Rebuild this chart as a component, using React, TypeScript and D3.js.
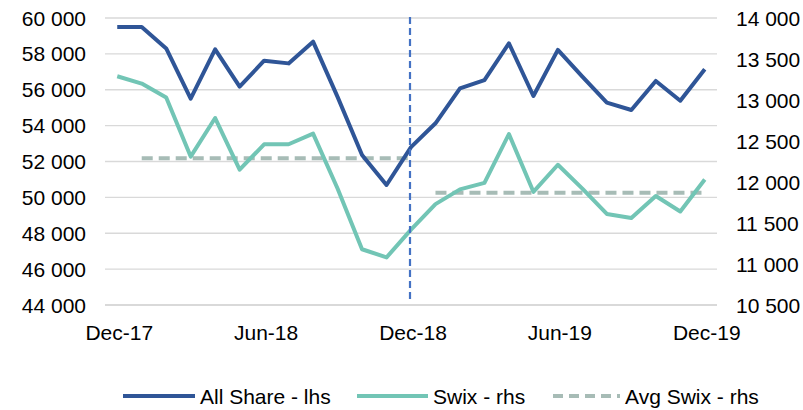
import * as d3 from "d3";

const months = [
  "Dec-17", "Jan-18", "Feb-18", "Mar-18", "Apr-18", "May-18", "Jun-18",
  "Jul-18", "Aug-18", "Sep-18", "Oct-18", "Nov-18", "Dec-18",
  "Jan-19", "Feb-19", "Mar-19", "Apr-19", "May-19", "Jun-19",
  "Jul-19", "Aug-19", "Sep-19", "Oct-19", "Nov-19", "Dec-19",
];
const tickMonths = ["Dec-17", "Jun-18", "Dec-18", "Jun-19", "Dec-19"];

const allShare = [
  59500, 59500, 58300, 55500, 58250, 56170, 57620, 57470, 58680, 55600, 52360, 50690, 52800,
  54130, 56080, 56540, 58590, 55650, 58220, 56730, 55280, 54870, 56490, 55390, 57140,
];
const swix = [
  13290, 13200, 13030, 12310, 12780, 12150, 12460, 12460, 12590, 11920, 11180, 11080, 11420,
  11730, 11910, 11990, 12585, 11880, 12210, 11920, 11610, 11560, 11830, 11640, 12030,
];
// average per period: Jan-18..Dec-18, then Jan-19..Dec-19
const avgSwix2018 = 12290;
const avgSwix2019 = 11870;

const leftTicks = [44000, 46000, 48000, 50000, 52000, 54000, 56000, 58000, 60000];
const rightTicks = [10500, 11000, 11500, 12000, 12500, 13000, 13500, 14000];
const splitMonth = "Dec-18";

const W = 803;
const H = 410;
const PLOT_LEFT = 105;
const PLOT_RIGHT = 717;
const PLOT_TOP = 18;
const PLOT_BOTTOM = 305;
const FONT = "'Liberation Sans', Arial, sans-serif";

const BLUE = "#2f5597";
const TEAL = "#72c5b5";
const AVG = "#a7bcb6";

const locale = d3.formatLocale({ decimal: ".", thousands: " ", grouping: [3], currency: ["", ""] });
const fmt = locale.format(",");

export default function App() {
  const x = d3.scaleBand<string>().domain(months).range([PLOT_LEFT, PLOT_RIGHT]);
  const cx = (m: string) => (x(m) ?? 0) + x.bandwidth() / 2;
  const yL = d3.scaleLinear().domain([44000, 60000]).range([PLOT_BOTTOM, PLOT_TOP]);
  const yR = d3.scaleLinear().domain([10500, 14000]).range([PLOT_BOTTOM, PLOT_TOP]);

  const lineL = d3.line<number>().x((_, i) => cx(months[i])).y((d) => yL(d));
  const lineR = d3.line<number | null>()
    .defined((d) => d !== null)
    .x((_, i) => cx(months[i]))
    .y((d) => yR(d as number));

  const splitIdx = months.indexOf(splitMonth);
  // two separate runs, so the gap between Dec-18 and Jan-19 stays open
  const avgA = months.map((_, i) => (i >= 1 && i <= splitIdx ? avgSwix2018 : null));
  const avgB = months.map((_, i) => (i > splitIdx ? avgSwix2019 : null));

  const legend = [
    { label: "All Share - lhs", x1: 123, x2: 195, color: BLUE, dash: undefined },
    { label: "Swix - rhs", x1: 357, x2: 428, color: TEAL, dash: undefined },
    { label: "Avg Swix - rhs", x1: 553, x2: 620, color: AVG, dash: "10 6" },
  ];

  return (
    <svg width={W} height={H} style={{ position: "absolute", left: 0, top: 0, background: "#fff" }} fontFamily={FONT}>
      {leftTicks.map((t) => (
        <line key={t} x1={PLOT_LEFT} x2={PLOT_RIGHT} y1={yL(t)} y2={yL(t)} stroke="#d9d9d9" strokeWidth={t === 44000 ? 2 : 1.3} />
      ))}
      {leftTicks.map((t) => (
        <text key={t} x={86} y={yL(t)} dy="0.36em" textAnchor="end" fontSize={21} fill="#000">
          {fmt(t)}
        </text>
      ))}
      {rightTicks.map((t) => (
        <text key={t} x={736} y={yR(t)} dy="0.36em" textAnchor="start" fontSize={21} fill="#000">
          {fmt(t)}
        </text>
      ))}
      {tickMonths.map((m) => (
        <text key={m} x={cx(m) + 2} y={340} textAnchor="middle" fontSize={21} fill="#000">
          {m}
        </text>
      ))}

      <path d={lineR(avgA) ?? ""} fill="none" stroke={AVG} strokeWidth={4} strokeDasharray="11 6" />
      <path d={lineR(avgB) ?? ""} fill="none" stroke={AVG} strokeWidth={4} strokeDasharray="11 6" />
      <path d={lineR(swix) ?? ""} fill="none" stroke={TEAL} strokeWidth={4} strokeLinejoin="round" />
      <path d={lineL(allShare) ?? ""} fill="none" stroke={BLUE} strokeWidth={4} strokeLinejoin="round" />

      <line x1={cx(splitMonth) - 1} x2={cx(splitMonth) - 1} y1={PLOT_TOP - 1} y2={300} stroke="#4472c4" strokeWidth={2.2} strokeDasharray="7 4" />

      {legend.map((l) => (
        <g key={l.label}>
          <line x1={l.x1} x2={l.x2} y1={396} y2={396} stroke={l.color} strokeWidth={4} strokeDasharray={l.dash} />
          <text x={l.x2 + 5} y={396} dy="0.36em" fontSize={21} fill="#000">
            {l.label}
          </text>
        </g>
      ))}
    </svg>
  );
}
